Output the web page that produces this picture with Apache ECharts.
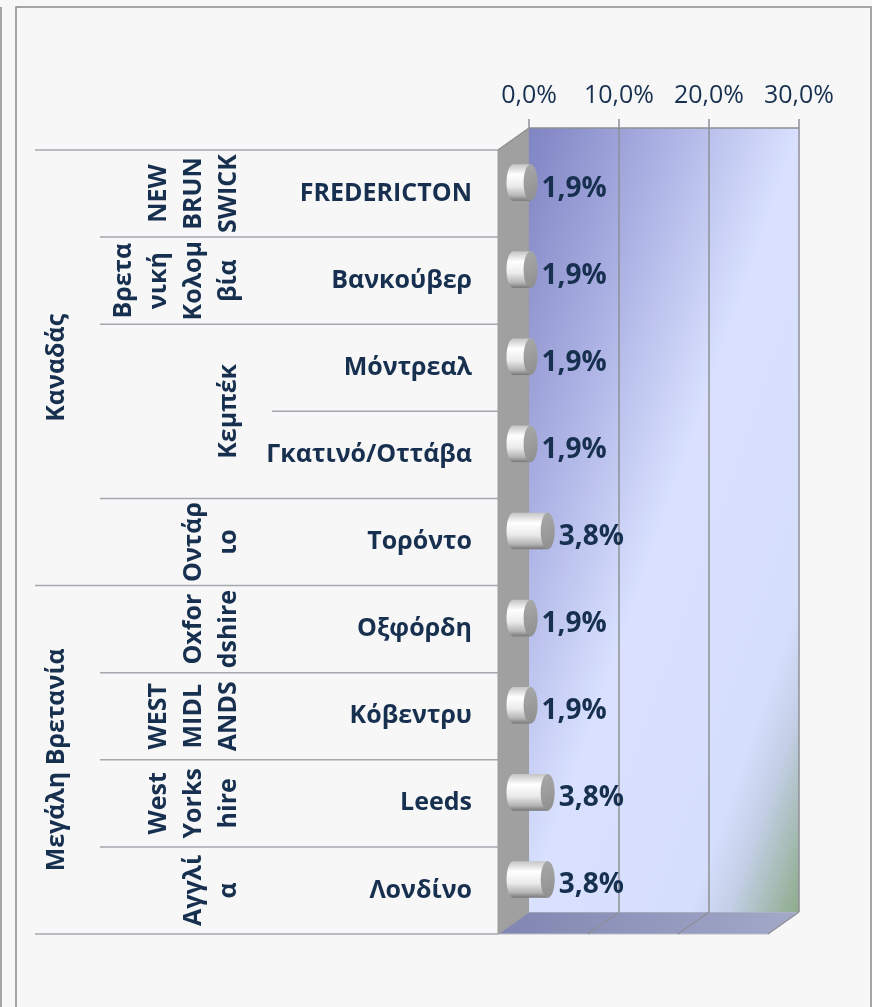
<!DOCTYPE html>
<html>
<head>
<meta charset="utf-8">
<script src="https://cdn.jsdelivr.net/npm/echarts@6/dist/echarts.min.js"></script>
<style>
  html, body { margin: 0; padding: 0; background: #f7f7f7; }
  #main { width: 872px; height: 1007px; }
</style>
</head>
<body>
<div id="main"></div>
<script>
// data
const cities = ['FREDERICTON', 'Βανκούβερ', 'Μόντρεαλ', 'Γκατινό/Οττάβα', 'Τορόντο',
                'Οξφόρδη', 'Κόβεντρυ', 'Leeds', 'Λονδίνο'];
const shares = [1.9, 1.9, 1.9, 1.9, 3.8, 1.9, 1.9, 3.8, 3.8];
const regions = ['NEW\nBRUN\nSWICK', 'Βρετα\nνική\nΚολομ\nβία', 'Κεμπέκ', 'Οντάρ\nιο',
                 'Oxfor\ndshire', 'WEST\nMIDL\nANDS', 'West\nYorks\nhire', 'Αγγλί\nα'];
const regionRows = [1, 1, 2, 1, 1, 1, 1, 1];
const countries = ['Καναδάς', 'Μεγάλη Βρετανία'];
const countryRows = [5, 4];
const xTicks = [0, 10, 20, 30];

// 3d look: the front edge sits left/down of the back wall
const DX = -31, DY = 22;
const textColor = '#17304f';
const lineColor = '#a3a7ae';
const gridColor = '#8e8f96';
const fontFam = '"Open Sans", sans-serif';

function pct(v) {
    return v.toFixed(1).replace('.', ',') + '%';
}

var chartDom = document.getElementById('main');
var myChart = echarts.init(chartDom);

function rowEdge(api, k) {
    const band = api.size([0, 1])[1];
    if (k < cities.length) return api.coord([0, k])[1] - band / 2;
    return api.coord([0, cities.length - 1])[1] + band / 2;
}

function renderWalls(params, api) {
    const bx0 = api.coord([xTicks[0], 0])[0];
    const bx1 = api.coord([xTicks[xTicks.length - 1], 0])[0];
    const by0 = rowEdge(api, 0);
    const by1 = rowEdge(api, cities.length);
    const children = [];

    // floor
    children.push({
        type: 'polygon',
        shape: {points: [[bx0 + DX, by1 + DY], [bx0, by1], [bx1, by1], [bx1 + DX, by1 + DY]]},
        style: {
            fill: {type: 'linear', x: 0, y: 0, x2: 1, y2: 0, colorStops: [
                {offset: 0, color: '#8186b2'}, {offset: 1, color: '#a3a9c8'}]},
            stroke: '#b9bdc8', lineWidth: 1
        }
    });
    // side wall
    children.push({
        type: 'polygon',
        shape: {points: [[bx0 + DX, by0 + DY], [bx0, by0], [bx0, by1], [bx0 + DX, by1 + DY]]},
        style: {fill: '#a0a0a0', stroke: '#9a9a9a', lineWidth: 1}
    });
    // back wall, diagonal gradient with a greenish far corner
    const ux = 0.944, uy = 0.33;
    const d = (bx1 - bx0) * ux + (by1 - by0) * uy;
    children.push({
        type: 'rect',
        shape: {x: bx0, y: by0, width: bx1 - bx0, height: by1 - by0},
        style: {
            fill: {type: 'linear', x: bx0, y: by0, x2: bx0 + d * ux, y2: by0 + d * uy, global: true,
                colorStops: [
                    {offset: 0, color: '#7f84c3'},
                    {offset: 0.25, color: '#aab0e2'},
                    {offset: 0.5, color: '#d9e1ff'},
                    {offset: 0.8, color: '#d5defc'},
                    {offset: 0.87, color: '#c3cfe6'},
                    {offset: 1, color: '#8dab8a'}
                ]}
        }
    });
    // grid lines on the wall and floor
    xTicks.forEach((t, i) => {
        const x = api.coord([t, 0])[0];
        if (i > 0) {
            children.push({type: 'line', shape: {x1: x, y1: by0, x2: x, y2: by1},
                style: {stroke: gridColor, lineWidth: 1.5}});
            children.push({type: 'line', shape: {x1: x, y1: by1, x2: x + DX, y2: by1 + DY},
                style: {stroke: gridColor, lineWidth: 1.2}});
        }
    });
    children.push({type: 'line', shape: {x1: bx0, y1: by0, x2: bx1, y2: by0},
        style: {stroke: gridColor, lineWidth: 1.5}});
    children.push({type: 'line', shape: {x1: bx0 + DX, y1: by0 + DY, x2: bx0, y2: by0},
        style: {stroke: gridColor, lineWidth: 1.2}});
    return {type: 'group', children: children};
}

function renderTable(params, api) {
    const xFront = api.coord([0, 0])[0] + DX;
    const children = [];
    const countryEdges = [0];
    countryRows.forEach(n => countryEdges.push(countryEdges[countryEdges.length - 1] + n));
    const regionEdges = [0];
    regionRows.forEach(n => regionEdges.push(regionEdges[regionEdges.length - 1] + n));

    for (let k = 0; k <= cities.length; k++) {
        let x0 = 272;
        if (countryEdges.includes(k)) x0 = 35;
        else if (regionEdges.includes(k)) x0 = 100;
        const y = rowEdge(api, k) + DY;
        children.push({type: 'line', shape: {x1: x0, y1: y, x2: xFront, y2: y},
            style: {stroke: lineColor, lineWidth: 1.5}});
    }

    const labelStyle = {fill: textColor, fontSize: 25, fontWeight: 'bold', fontFamily: fontFam};

    cities.forEach((c, i) => {
        children.push({
            type: 'text', x: 472, y: api.coord([0, i])[1] + DY,
            style: Object.assign({text: c, align: 'right', verticalAlign: 'middle'}, labelStyle)
        });
    });

    regions.forEach((r, i) => {
        const yc = (rowEdge(api, regionEdges[i]) + rowEdge(api, regionEdges[i + 1])) / 2 + DY;
        children.push({
            type: 'text', x: 246, y: yc, rotation: Math.PI / 2,
            style: Object.assign({text: r, align: 'center', verticalAlign: 'bottom', lineHeight: 35}, labelStyle)
        });
    });

    countries.forEach((c, i) => {
        const yc = (rowEdge(api, countryEdges[i]) + rowEdge(api, countryEdges[i + 1])) / 2 + DY;
        children.push({
            type: 'text', x: 57, y: yc, rotation: Math.PI / 2,
            style: Object.assign({text: c, align: 'center', verticalAlign: 'middle'}, labelStyle)
        });
    });
    return {type: 'group', children: children};
}

function renderBar(params, api) {
    const val = api.value(0);
    const idx = api.value(1);
    const band = api.size([0, 1])[1];
    const p0 = api.coord([0, idx]);
    const p1 = api.coord([val, idx]);
    const cy = p0[1] + DY / 2;
    const x0 = p0[0] + DX / 2, x1 = p1[0] + DX / 2;
    const ry = band * 0.21, rx = 7;
    const body = {type: 'linear', x: 0, y: 0, x2: 0, y2: 1, colorStops: [
        {offset: 0, color: '#c4c4c4'},
        {offset: 0.28, color: '#ffffff'},
        {offset: 0.6, color: '#ebebeb'},
        {offset: 0.86, color: '#b4b4b4'},
        {offset: 1, color: '#777777'}
    ]};
    return {
        type: 'group',
        children: [
            {type: 'ellipse', shape: {cx: x0, cy: cy, rx: rx, ry: ry}, style: {fill: body}},
            {type: 'rect', shape: {x: x0, y: cy - ry, width: x1 - x0, height: ry * 2}, style: {fill: body}},
            {type: 'ellipse', shape: {cx: x1, cy: cy, rx: rx, ry: ry},
                style: {fill: {type: 'linear', x: 0, y: 0, x2: 1, y2: 1, colorStops: [
                    {offset: 0, color: '#a9a9a9'}, {offset: 1, color: '#8e8e8e'}]}}},
            {type: 'text', x: x1 + rx + 4, y: cy + 6,
                style: {text: pct(val), fill: textColor, fontSize: 28, fontWeight: 'bold',
                    fontFamily: fontFam, verticalAlign: 'middle'}}
        ]
    };
}

var option = {
    backgroundColor: '#f7f7f7',
    animation: false,
    graphic: [
        {type: 'rect', shape: {x: 16, y: 7, width: 855, height: 1010},
            style: {fill: 'none', stroke: '#8a8a8a', lineWidth: 1.5}, z: 0},
        {type: 'line', shape: {x1: 1, y1: 7, x2: 1, y2: 1007},
            style: {stroke: '#8a8a8a', lineWidth: 1.5}}
    ],
    grid: {left: 529, top: 128, width: 270, height: 784},
    xAxis: {
        type: 'value',
        position: 'top',
        min: 0,
        max: 30,
        interval: 10,
        axisLine: {show: false},
        axisTick: {show: true, length: 9, lineStyle: {color: gridColor, width: 1.5}},
        splitLine: {show: false},
        axisLabel: {
            formatter: v => pct(v),
            color: textColor,
            fontSize: 25,
            fontFamily: fontFam,
            margin: 20
        }
    },
    yAxis: {
        type: 'category',
        inverse: true,
        data: cities,
        axisLine: {show: false},
        axisTick: {show: false},
        axisLabel: {show: false},
        splitLine: {show: false}
    },
    series: [
        {type: 'custom', name: 'walls', z: 1, silent: true, data: [[0, 0]], renderItem: renderWalls},
        {type: 'custom', name: 'table', z: 2, silent: true, data: [[0, 0]], renderItem: renderTable},
        {type: 'custom', name: 'share', z: 3, data: shares.map((v, i) => [v, i]),
            encode: {x: 0, y: 1}, renderItem: renderBar}
    ]
};
option && myChart.setOption(option);
</script>
</body>
</html>
